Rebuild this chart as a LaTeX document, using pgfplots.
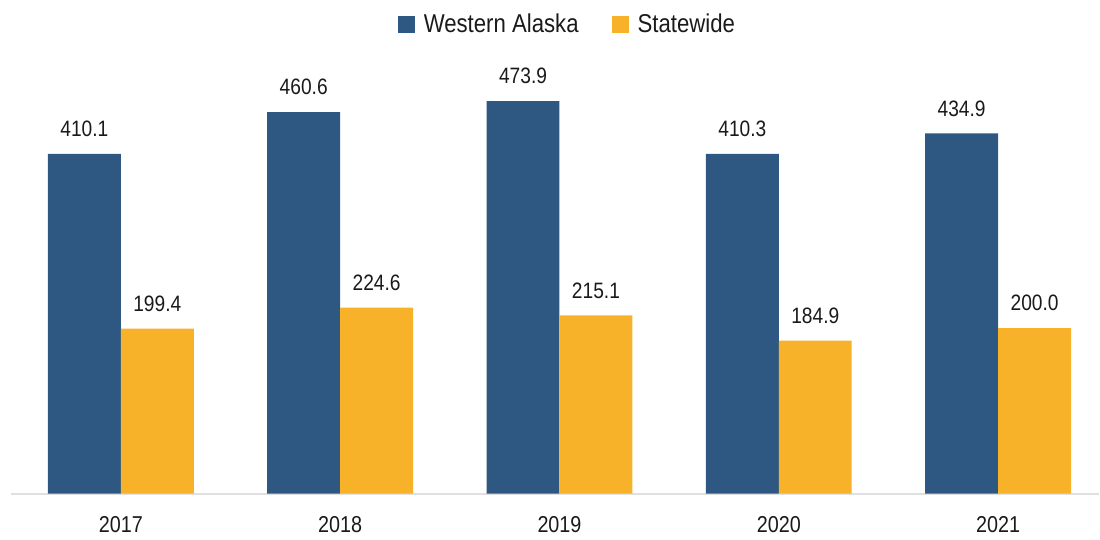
\documentclass[border=0pt]{standalone}
\usepackage{fontspec}
\setmainfont[FakeStretch=0.86]{Liberation Sans}
\usepackage{pgfplots}
\pgfplotsset{compat=1.18}
\definecolor{wablue}{RGB}{46,88,130}
\definecolor{sworange}{RGB}{247,178,42}
\definecolor{txt}{RGB}{26,26,26}
\begin{document}
\begin{tikzpicture}
\begin{axis}[
    x=219.5pt, y=0.829pt,
    xmin=-0.501, xmax=4.46, ymin=0, ymax=596,
    ybar=0pt, bar width=73pt,
    clip=false,
    axis y line=none,
    axis x line*=bottom,
    x axis line style={-, draw=black!12, line width=2pt},
    xtick=data, xticklabels={2017,2018,2019,2020,2021},
    major tick length=0pt,
    xticklabel style={inner sep=0pt, anchor=north, yshift=-23pt, text=txt,
        font=\fontsize{23}{27}\selectfont},
    nodes near coords,
    every node near coord/.append style={anchor=south, inner sep=0pt, yshift=17pt,
        text=txt, font=\fontsize{22.3}{26}\selectfont},
    /pgf/number format/fixed, /pgf/number format/fixed zerofill,
    /pgf/number format/precision=1, /pgf/number format/assume math mode=true,
    legend columns=2,
    legend style={at={(axis cs:1.262,567)}, anchor=west, draw=none, fill=none,
        inner sep=0pt, text=txt, font=\fontsize{25.8}{30}\selectfont,
        /tikz/every odd column/.append style={column sep=7pt},
        /tikz/every even column/.append style={column sep=31pt}},
]
\addplot[fill=wablue, draw=none,
    legend image code/.code={\fill[wablue] (0pt,-8.5pt) rectangle (17pt,8.5pt);}]
    coordinates {(0,410.1) (1,460.6) (2,473.9) (3,410.3) (4,434.9)};
\addlegendentry{Western Alaska}
\addplot[fill=sworange, draw=none,
    legend image code/.code={\fill[sworange] (0pt,-8.5pt) rectangle (17pt,8.5pt);}]
    coordinates {(0,199.4) (1,224.6) (2,215.1) (3,184.9) (4,200.0)};
\addlegendentry{Statewide}
\path (axis cs:-0.551,-55.5) rectangle (axis cs:4.46,596);
\end{axis}
\end{tikzpicture}
\end{document}
